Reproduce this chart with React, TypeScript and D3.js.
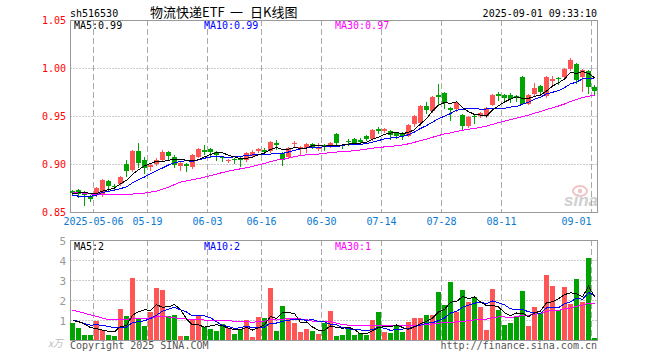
import React, { useEffect, useRef } from 'react';
import * as d3 from 'd3';

// daily candles
const opens = [
  0.872, 0.873, 0.871, 0.867, 0.868, 0.868, 0.882, 0.877, 0.879, 0.900,
  0.894, 0.914, 0.904, 0.897, 0.900, 0.904, 0.913, 0.907, 0.898, 0.900,
  0.897, 0.908, 0.915, 0.916, 0.913, 0.907, 0.903, 0.905, 0.906, 0.904,
  0.909, 0.914, 0.915, 0.914, 0.922, 0.911, 0.908, 0.921, 0.917, 0.917,
  0.921, 0.916, 0.920, 0.919, 0.931, 0.920, 0.924, 0.926, 0.925, 0.929,
  0.926, 0.936, 0.934, 0.934, 0.932, 0.932, 0.930, 0.942, 0.942, 0.960,
  0.955, 0.972, 0.974, 0.958, 0.958, 0.951, 0.940, 0.950, 0.950, 0.950,
  0.962, 0.973, 0.972, 0.972, 0.971, 0.991, 0.963, 0.973, 0.981, 0.971,
  0.987, 0.990, 0.991, 0.999, 1.004, 0.991, 0.997, 0.980,
];
const closes = [
  0.870, 0.869, 0.868, 0.864, 0.875, 0.883, 0.877, 0.876, 0.886, 0.893,
  0.914, 0.901, 0.896, 0.899, 0.904, 0.912, 0.909, 0.899, 0.901, 0.898,
  0.909, 0.916, 0.913, 0.913, 0.910, 0.906, 0.904, 0.904, 0.904, 0.911,
  0.913, 0.916, 0.913, 0.923, 0.920, 0.904, 0.917, 0.922, 0.918, 0.921,
  0.918, 0.918, 0.918, 0.922, 0.922, 0.919, 0.923, 0.922, 0.923, 0.926,
  0.935, 0.934, 0.936, 0.930, 0.929, 0.929, 0.941, 0.950, 0.960, 0.956,
  0.970, 0.970, 0.964, 0.956, 0.964, 0.940, 0.949, 0.949, 0.953, 0.958,
  0.972, 0.971, 0.969, 0.968, 0.970, 0.963, 0.972, 0.979, 0.975, 0.991,
  0.989, 0.989, 0.999, 1.008, 0.987, 0.998, 0.980, 0.976,
];
const highs = [
  0.873, 0.874, 0.872, 0.868, 0.876, 0.884, 0.883, 0.879, 0.887, 0.904,
  0.915, 0.922, 0.907, 0.901, 0.906, 0.915, 0.914, 0.909, 0.902, 0.901,
  0.910, 0.917, 0.920, 0.917, 0.914, 0.908, 0.905, 0.906, 0.907, 0.912,
  0.915, 0.917, 0.917, 0.924, 0.925, 0.912, 0.918, 0.924, 0.919, 0.922,
  0.922, 0.922, 0.921, 0.923, 0.932, 0.921, 0.926, 0.927, 0.927, 0.930,
  0.936, 0.939, 0.937, 0.935, 0.933, 0.933, 0.942, 0.951, 0.961, 0.965,
  0.971, 0.983, 0.975, 0.959, 0.965, 0.952, 0.950, 0.951, 0.954, 0.959,
  0.973, 0.975, 0.973, 0.974, 0.972, 0.992, 0.973, 0.984, 0.982, 0.992,
  0.992, 0.991, 1.000, 1.010, 1.005, 0.999, 0.998, 0.982,
];
const lows = [
  0.868, 0.866, 0.857, 0.861, 0.867, 0.867, 0.873, 0.873, 0.878, 0.888,
  0.893, 0.897, 0.891, 0.894, 0.899, 0.903, 0.905, 0.897, 0.894, 0.893,
  0.896, 0.907, 0.910, 0.907, 0.904, 0.903, 0.902, 0.901, 0.898, 0.903,
  0.908, 0.913, 0.911, 0.913, 0.916, 0.899, 0.907, 0.919, 0.910, 0.913,
  0.917, 0.915, 0.915, 0.918, 0.921, 0.917, 0.920, 0.921, 0.921, 0.925,
  0.925, 0.932, 0.933, 0.926, 0.927, 0.926, 0.929, 0.940, 0.941, 0.953,
  0.954, 0.962, 0.958, 0.946, 0.955, 0.935, 0.939, 0.943, 0.949, 0.949,
  0.961, 0.967, 0.965, 0.965, 0.966, 0.962, 0.962, 0.972, 0.972, 0.970,
  0.983, 0.983, 0.990, 0.998, 0.984, 0.976, 0.974, 0.973,
];
// volume, in 万
const volumes = [
  0.83, 0.58, 0.25, 0.25, 0.93, 0.48, 0.23, 0.18, 1.53, 1.18,
  3.08, 1.08, 0.68, 1.38, 2.58, 2.48, 1.18, 1.23, 0.18, 0.18,
  1.03, 1.18, 0.63, 0.53, 0.43, 0.78, 0.58, 0.28, 0.53, 0.98,
  0.13, 1.13, 1.08, 2.58, 0.43, 1.68, 1.08, 0.83, 0.38, 0.53,
  0.43, 0.28, 0.83, 1.43, 0.18, 0.23, 0.53, 0.23, 0.33, 0.23,
  0.98, 1.38, 0.38, 0.33, 0.68, 0.38, 0.88, 1.08, 1.08, 1.23,
  1.23, 2.38, 1.73, 2.88, 1.38, 2.48, 1.88, 2.13, 1.63, 0.48,
  2.53, 1.48, 0.73, 0.83, 1.18, 2.43, 0.68, 1.63, 1.33, 3.23,
  2.68, 1.48, 2.63, 1.78, 3.03, 1.88, 4.08, 0.08,
];
// 29 sessions before the window (not drawn, only feed the moving averages; estimated from the MA lines)
const prevCloses = [
  0.890, 0.889, 0.885, 0.896, 0.883, 0.877, 0.876, 0.886, 0.893, 0.898,
  0.885, 0.880, 0.869, 0.874, 0.849, 0.846, 0.821, 0.823, 0.861, 0.872,
  0.879, 0.867, 0.867, 0.864, 0.853, 0.865, 0.865, 0.869, 0.876,
];
const prevVolumes = [
  2.98, 2.65, 2.65, 3.33, 2.88, 2.63, 0.3, 1.3, 1.0, 1.58,
  1.0, 0.7, 0.5, 1.1, 1.6, 2.4, 2.4, 1.1, 1.1, 1.6,
  1.5, 1.2, 1.1, 0.7, 0.8, 0.8, 0.9, 1.1, 1.2,
];

const tickLabels = ['2025-05-06', '05-19', '06-03', '06-16', '06-30', '07-14', '07-28', '08-11', '09-01'];
const tickIndex = [4, 13, 23, 32, 42, 52, 62, 72, 87];
const priceTicks = [1.05, 1.0, 0.95, 0.9, 0.85];
const volTicks = [5, 4, 3, 2, 1];
const maPeriods = [5, 10, 30];

const MONO = '"DejaVu Sans Mono", "Liberation Mono", monospace';
const CJK = '"Noto Sans CJK SC", sans-serif';
const RED = '#ff5555';
const GREEN = '#00a400';
const maColors = ['#000000', '#0000ff', '#ff00ff'];

function movingAvg(values: number[], prev: number[], n: number) {
  const all = prev.concat(values);
  const off = prev.length;
  return values.map((_, i) => {
    const end = off + i + 1;
    return d3.mean(all.slice(Math.max(0, end - n), end)) as number;
  });
}

function App() {
  const svgRef = useRef<SVGSVGElement>(null);

  useEffect(() => {
    const svg = d3.select(svgRef.current);
    svg.selectAll('*').remove();
    const n = closes.length;
    const x = d3.scaleBand<number>().domain(d3.range(n)).range([70, 70 + n * 6]);
    const bw = 5;
    const cx = (i: number) => (x(i) as number) + 2.5;
    const yP = d3.scaleLinear().domain([0.85, 1.05]).range([212, 20]);
    const yV = d3.scaleLinear().domain([0, 5]).range([340, 240]);
    const left = 70.5;
    const right = 597.5;

    // header
    svg.append('text').attr('x', 70).attr('y', 17).attr('font-family', MONO).attr('font-size', 10)
      .text('sh516530');
    const title = svg.append('text').attr('y', 17).attr('font-family', CJK).attr('font-size', 13);
    title.append('tspan').attr('x', 150).text('物流快递ETF');
    title.append('tspan').attr('x', 230).text('一');
    title.append('tspan').attr('x', 250).text('日K线图');
    svg.append('text').attr('x', 597).attr('y', 17).attr('text-anchor', 'end').attr('font-family', MONO)
      .attr('font-size', 10).text('2025-09-01 09:33:10');

    // watermark
    const wm = svg.append('g');
    wm.append('ellipse').attr('cx', 580).attr('cy', 191).attr('rx', 7).attr('ry', 5)
      .attr('fill', 'none').attr('stroke', '#f2c2c2').attr('stroke-width', 2);
    wm.append('circle').attr('cx', 580).attr('cy', 191).attr('r', 2.2).attr('fill', '#f2c2c2');
    wm.append('text').attr('x', 564).attr('y', 206).attr('font-family', '"Liberation Sans", Arial, sans-serif')
      .attr('font-size', 17).attr('font-weight', 'bold').attr('font-style', 'italic')
      .attr('fill', '#cfcfcf').text('sina');

    // grid
    const grid = svg.append('g');
    grid.selectAll('.hp').data(priceTicks.slice(1, -1)).enter().append('line')
      .attr('x1', left).attr('x2', right)
      .attr('y1', (d) => Math.round(yP(d)) + 0.5).attr('y2', (d) => Math.round(yP(d)) + 0.5)
      .attr('stroke', '#999').attr('stroke-dasharray', '1,2');
    grid.selectAll('.hv').data(volTicks.slice(1)).enter().append('line')
      .attr('x1', left).attr('x2', right)
      .attr('y1', (d) => Math.round(yV(d)) + 0.5).attr('y2', (d) => Math.round(yV(d)) + 0.5)
      .attr('stroke', '#999').attr('stroke-dasharray', '1,2');
    [[20, 212], [240, 340]].forEach(([t, b]) => {
      grid.selectAll(null).data(tickIndex).enter().append('line')
        .attr('x1', (d) => (x(d) as number) - 0.5).attr('x2', (d) => (x(d) as number) - 0.5)
        .attr('y1', t).attr('y2', b)
        .attr('stroke', '#aaa').attr('stroke-dasharray', '6,3');
    });

    // borders
    [[20, 212], [240, 340]].forEach(([t, b]) => {
      svg.append('rect').attr('x', left).attr('y', t + 0.5).attr('width', right - left)
        .attr('height', b - t).attr('fill', 'none').attr('stroke', '#999');
    });

    // axis labels
    svg.selectAll('.pl').data(priceTicks).enter().append('text')
      .attr('x', 66).attr('y', (d) => yP(d) + 4).attr('text-anchor', 'end')
      .attr('font-family', MONO).attr('font-size', 10).attr('fill', '#ff0000')
      .text((d) => d.toFixed(2));
    svg.selectAll('.vl').data(volTicks).enter().append('text')
      .attr('x', 66).attr('y', (d) => yV(d) + 5).attr('text-anchor', 'end')
      .attr('font-family', MONO).attr('font-size', 11).attr('fill', '#999')
      .text((d) => String(d));
    svg.append('text').attr('x', 48).attr('y', 347).attr('font-family', CJK)
      .attr('font-size', 10).attr('font-style', 'italic').attr('fill', '#bbb').text('x万');
    svg.selectAll('.dl').data(tickIndex).enter().append('text')
      .attr('x', (d, k) => Math.min((x(d) as number) - 0.5, right - 6 - tickLabels[k].length * 3))
      .attr('y', 225).attr('text-anchor', 'middle')
      .attr('font-family', MONO).attr('font-size', 10).attr('fill', '#0a78d2')
      .text((_, k) => tickLabels[k]);
    svg.append('text').attr('x', 70).attr('y', 349).attr('font-family', MONO).attr('font-size', 10)
      .attr('fill', '#555').text('Copyright 2025 SINA.COM');
    svg.append('text').attr('x', 597).attr('y', 349).attr('text-anchor', 'end').attr('font-family', MONO)
      .attr('font-size', 10).attr('fill', '#555').text('http://finance.sina.com.cn');

    // candles
    const idx = d3.range(n);
    const up = (i: number) => closes[i] >= opens[i];
    const cg = svg.append('g').attr('shape-rendering', 'crispEdges');
    cg.selectAll('.wick').data(idx).enter().append('line')
      .attr('x1', (i) => cx(i)).attr('x2', (i) => cx(i))
      .attr('y1', (i) => Math.round(yP(highs[i]))).attr('y2', (i) => Math.round(yP(lows[i])) + 1)
      .attr('stroke', (i) => (up(i) ? RED : GREEN));
    cg.selectAll('.body').data(idx).enter().append('rect')
      .attr('x', (i) => x(i) as number).attr('width', bw)
      .attr('y', (i) => Math.round(yP(Math.max(opens[i], closes[i]))))
      .attr('height', (i) => Math.max(1, Math.round(Math.abs(yP(opens[i]) - yP(closes[i])))))
      .attr('fill', (i) => (up(i) ? RED : GREEN));

    // volume bars
    const vg = svg.append('g').attr('shape-rendering', 'crispEdges');
    vg.selectAll('rect').data(idx).enter().append('rect')
      .attr('x', (i) => x(i) as number).attr('width', bw)
      .attr('y', (i) => Math.round(yV(volumes[i])))
      .attr('height', (i) => 340 - Math.round(yV(volumes[i])))
      .attr('fill', (i) => (up(i) ? RED : GREEN));

    // moving averages
    const priceMA = maPeriods.map((p) => movingAvg(closes, prevCloses, p));
    const volMA = maPeriods.map((p) => movingAvg(volumes, prevVolumes, p));
    const lp = d3.line<number>().x((_, i) => cx(i)).y((d) => yP(d));
    const lv = d3.line<number>().x((_, i) => cx(i)).y((d) => yV(d));
    [...priceMA].reverse().forEach((s, k) => {
      svg.append('path').attr('d', lp(s)).attr('fill', 'none')
        .attr('stroke', maColors[2 - k]).attr('shape-rendering', 'crispEdges');
    });
    [...volMA].reverse().forEach((s, k) => {
      svg.append('path').attr('d', lv(s)).attr('fill', 'none')
        .attr('stroke', maColors[2 - k]).attr('shape-rendering', 'crispEdges');
    });

    // MA legends
    const legX = [74, 204, 335];
    maPeriods.forEach((p, k) => {
      svg.append('text').attr('x', legX[k]).attr('y', 29).attr('font-family', MONO).attr('font-size', 10)
        .attr('fill', maColors[k]).text(`MA${p}:${priceMA[k][n - 1].toFixed(2)}`);
      svg.append('text').attr('x', legX[k]).attr('y', 250).attr('font-family', MONO).attr('font-size', 10)
        .attr('fill', maColors[k]).text(`MA${p}:${Math.floor(volMA[k][n - 1])}`);
    });
  }, []);

  return (
    <svg
      ref={svgRef}
      width={660}
      height={360}
      style={{ position: 'absolute', left: 0, top: 0, background: '#fff' }}
    />
  );
}

export default App;
